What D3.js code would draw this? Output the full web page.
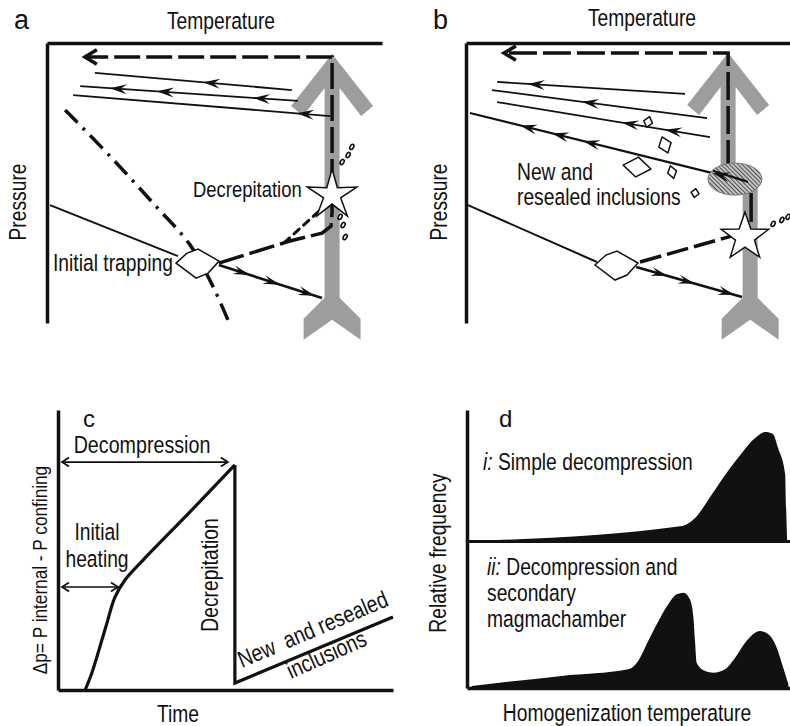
<!DOCTYPE html>
<html>
<head>
<meta charset="utf-8">
<script src="https://cdn.jsdelivr.net/npm/d3@7"></script>
<style>
    html, body { margin: 0; padding: 0; background: #fff; }
    svg { display: block; }
    text {
        font-family: "Liberation Sans", Arial, sans-serif;
        fill: #111;
    }
</style>
</head>
<body>
<svg id="fig" width="790" height="726"></svg>
<script>
// Schematic P-T paths of melt inclusions during magma ascent (a, b),
// overpressure through time (c) and resulting Th histograms (d).
// Panels a/b use schematic units: temperature 0-100 left to right,
// pressure 0-100 top to bottom.

const INK = "#111";
const GREY = "#9d9d9d";
const NARROW = 0.82;   // condensed look for the Helvetica-Narrow style labels

// ---- panel a: simple decompression ----
const A_TRAP_LINE = [[0.9, 57.9], [39.1, 76.1]];
const A_TRAP = [45.1, 78.6];
const A_HEAT_LINE = [[51.3, 79.3], [82.1, 91.1]];
const A_HEAT_ARROWS = [60.6, 69.6, 80.0];
const A_RESET_PATH = [[51.3, 78.6], [72.5, 70.7], [82.1, 67.9], [84.8, 65.4], [85.1, 60.4], [85.1, 5.0], [11.3, 5.0]];
const A_COOL_LINES = [
    [[14.3, 10.7], [73.1, 16.8]],
    [[9.9, 15.4], [74.9, 20.7]],
    [[7.8, 18.6], [84.5, 26.1]],
];
const A_COOL_ARROWS = [[46.6], [18.8, 32.8, 61.5], [74.6]];
const A_DASHDOT = [[5.4, 23.9], [18.8, 40.4], [32.2, 57.9], [42.7, 72.1], [49.6, 87.1], [54.0, 98.9]];
const A_ASCENT = [[85.1, 3.9], [85.1, 106]];
const A_STAR = [85.1, 54.3];
const A_SPALL = [[91.0, 37.1], [89.9, 40.0], [88.1, 42.5], [87.5, 62.1], [88.4, 65.0], [89.0, 69.3]];
const A_SPALL_LINE = [[83.9, 57.1], [71.0, 71.1]];

// ---- panel b: decompression with resealing ----
const B_TRAP_LINE = [[0.6, 57.9], [40.4, 78.2]];
const B_TRAP = [46.6, 79.3];
const B_HEAT_LINE = [[52.5, 80.0], [85.2, 90.7]];
const B_HEAT_ARROWS = [62.3, 70.7, 83.0];
const B_BURST_LINE = [[53.7, 78.2], [83.0, 68.6]];
const B_RESET_PATH = [[80.9, 44.6], [80.9, 3.6], [11.7, 3.6]];
const B_DROP = [[88.0, 53.6], [88.0, 63.9]];
const B_COOL_LINES = [
    [[9.6, 13.9], [67.6, 18.2]],
    [[8.0, 16.8], [74.4, 26.8]],
    [[9.6, 21.1], [75.3, 33.6]],
    [[1.2, 25.0], [87.0, 49.6]],
];
const B_COOL_ARROWS = [[19.1], [35.8], [48.1, 61.4], [16.7, 26.5, 36.1, 76.2]];
const B_ASCENT = [[80.9, 3.6], [87.7, 106]];
const B_JOG = 48.9;
const B_RESEAL = [83.0, 48.6];
const B_STAR = [86.1, 69.3];
const B_SPALL = [[94.8, 64.6], [97.5, 63.2], [99.4, 62.1]];
const B_INCLUSIONS = [[56.2, 28.2], [61.4, 36.4], [52.8, 44.3], [63.6, 46.1], [70.7, 53.6]];

// ---- panel c: overpressure vs time ----
const C_RISE_TIME = [8.1, 10.1, 12.5, 14.6, 17.0, 20.0, 25.4, 39.4, 52.8];
const C_RISE_DP = [0, 6.1, 15.4, 23.9, 33.2, 39.3, 46.4, 63.6, 80.4];
const C_AFTER = [[52.8, 80.4], [52.8, 2.5], [100, 26.1]];

// ---- panel d: homogenization temperature histograms ----
const D_TEMP_I = [1.5, 66.6, 70.6, 75.9, 80.8, 85.1, 89.2, 92.3, 94.7, 96.3, 98.5, 98.8, 99.1];
const D_FREQ_I = [0, 11.5, 17.7, 36.2, 53.8, 67.7, 79.2, 83.8, 82.3, 71.5, 51.5, 25.4, 0];
const D_TEMP_II = [1.5, 29.3, 49.9, 53.0, 56.1, 59.3, 62.3, 64.9, 67.0, 69.0, 70.1, 70.6, 71.1,
    73.7, 76.3, 79.9, 83.0, 86.1, 89.2, 90.7, 93.3, 95.9, 97.9, 99.5];
const D_FREQ_II = [0.8, 8.5, 13.6, 20, 35.4, 50.8, 63.6, 71.3, 72.5, 67.5, 53.3, 35.4, 18.7,
    12.3, 11, 13.6, 22.5, 34.1, 41.8, 43.1, 40.5, 30.2, 14.8, 2.1];

// small rhombus inclusions in b: width, height, rotation (style only)
const INCLUSION_STYLE = [[9, 11, 15], [13, 17, -20], [28, 20, 8], [9, 13, -15], [8, 9, 10]];

const svg = d3.select("#fig");
const defs = svg.append("defs");

const hatch = defs.append("pattern")
    .attr("id", "hatch")
    .attr("patternUnits", "userSpaceOnUse")
    .attr("width", 3).attr("height", 3)
    .attr("patternTransform", "rotate(-45)");
hatch.append("rect").attr("width", 3).attr("height", 3).attr("fill", "#c4c4c4");
hatch.append("line").attr("x1", 0.5).attr("x2", 0.5).attr("y1", 0).attr("y2", 3)
    .attr("stroke", "#444").attr("stroke-width", 0.9);

// ---------- helpers ----------
function pathGen(x, y) {
    return d3.line().x((d) => x(d[0])).y((d) => y(d[1]));
}

function headPath(L, W) {
    return `M0,0L${-L},${-W}L${-0.62 * L},0L${-L},${W}Z`;
}

// filled arrowheads on a straight segment, pointing from -> to
function arrowsAlong(g, x, y, from, to, temps, L, W) {
    const x0 = x(from[0]), y0 = y(from[1]), x1 = x(to[0]), y1 = y(to[1]);
    const ang = Math.atan2(y1 - y0, x1 - x0) * 180 / Math.PI;
    g.append("g").selectAll("path")
        .data(temps)
        .join("path")
        .attr("d", headPath(L, W))
        .attr("fill", INK)
        .attr("transform", (t) => {
            const f = (t - from[0]) / (to[0] - from[0]);
            return `translate(${x0 + f * (x1 - x0)},${y0 + f * (y1 - y0)}) rotate(${ang})`;
        });
}

function ascentArrow(g, xTop, xBot, yApex, yJog, yEnd) {
    const HW = 7.5;
    const pts = [
        [xTop, yApex],
        [xTop + 41, yApex + 52], [xTop + 29, yApex + 62], [xTop + HW, yApex + 34],
        [xTop + HW, yJog], [xBot + HW, yJog],
        [xBot + HW, yEnd - 42], [xBot + HW + 21, yEnd - 21], [xBot + HW + 21, yEnd], [xBot, yEnd - 20],
        [xBot - HW - 21, yEnd], [xBot - HW - 21, yEnd - 21], [xBot - HW, yEnd - 42],
        [xBot - HW, yJog], [xTop - HW, yJog],
        [xTop - HW, yApex + 34], [xTop - 29, yApex + 62], [xTop - 41, yApex + 52],
    ];
    g.append("path").attr("d", d3.line()(pts) + "Z").attr("fill", GREY);
}

function starPath(R, r) {
    const pts = d3.range(10).map((i) => {
        const a = (198 + i * 36) * Math.PI / 180;
        const rad = i % 2 ? r : R;
        return [rad * Math.cos(a), rad * Math.sin(a)];
    });
    return d3.line()(pts) + "Z";
}

const LENS = [[-22, 0], [-11, -10], [0, -14], [21, -2], [10, 10], [-2, 15]];

function lens(g, x, y, p) {
    g.append("path")
        .attr("d", d3.line()(LENS) + "Z")
        .attr("transform", `translate(${x(p[0])},${y(p[1])})`)
        .attr("fill", "#fff").attr("stroke", INK).attr("stroke-width", 1.5);
}

function frame(g, x, y) {
    const top = g.append("g")
        .attr("transform", `translate(0,${y.range()[0]})`)
        .call(d3.axisTop(x).tickValues([]).tickSizeOuter(0));
    const left = g.append("g")
        .attr("transform", `translate(${x.range()[0]},0)`)
        .call(d3.axisLeft(y).tickValues([]).tickSizeOuter(0));
    [top, left].forEach((a) => a.select(".domain").attr("stroke", INK).attr("stroke-width", 3.5));
}

function spall(g, x, y, pts) {
    g.append("g").selectAll("ellipse")
        .data(pts)
        .join("ellipse")
        .attr("cx", (d) => x(d[0])).attr("cy", (d) => y(d[1]))
        .attr("rx", 2.8).attr("ry", 1.7)
        .attr("transform", (d) => `rotate(-60,${x(d[0])},${y(d[1])})`)
        .attr("fill", "#fff").attr("stroke", INK).attr("stroke-width", 1.6);
}

function openHead(g, px, py, size) {
    g.append("path")
        .attr("d", `M${px + size},${py - size * 0.6}L${px},${py}L${px + size},${py + size * 0.6}`)
        .attr("fill", "none").attr("stroke", INK).attr("stroke-width", 3.5);
}

function coolLines(g, x, y, lines, arrows, widths) {
    const line = pathGen(x, y);
    lines.forEach((seg, i) => {
        g.append("path").attr("d", line(seg))
            .attr("fill", "none").attr("stroke", INK).attr("stroke-width", widths[i]);
        arrowsAlong(g, x, y, seg[1], seg[0], arrows[i], 17, 5);
    });
}

// text is drawn at the origin and placed with a transform so it can be
// squeezed horizontally (narrow sans look) and rotated
function label(g, txt, px, py, size, opts = {}) {
    const sx = opts.wide ? 1 : NARROW;
    const rot = opts.rotate != null ? ` rotate(${opts.rotate})` : "";
    return g.append("text")
        .attr("transform", `translate(${px},${py})${rot} scale(${sx},1)`)
        .attr("font-size", size)
        .attr("text-anchor", opts.anchor || "start")
        .style("white-space", "pre")
        .text(txt);
}

// ---------- panel a ----------
{
    const g = svg.append("g");
    const x = d3.scaleLinear().domain([0, 100]).range([47, 382]);
    const y = d3.scaleLinear().domain([0, 100]).range([43, 323]);
    const line = pathGen(x, y);

    ascentArrow(g, x(A_ASCENT[0][0]), x(A_ASCENT[1][0]), y(A_ASCENT[0][1]), y(50), y(A_ASCENT[1][1]));
    frame(g, x, y);

    // dash-dot boundary; stretch the dashes a little so it ends on a dash
    const dd = g.append("path").attr("d", pathGen(x, y).curve(d3.curveCatmullRom)(A_DASHDOT))
        .attr("fill", "none").attr("stroke", INK).attr("stroke-width", 3.5);
    const len = dd.node().getTotalLength();
    const n = Math.round((len - 19) / 38);
    const k = len / (n * 38 + 19);
    dd.attr("stroke-dasharray", [19 * k, 8 * k, 3 * k, 8 * k].join(","));

    coolLines(g, x, y, A_COOL_LINES, A_COOL_ARROWS, [1.8, 1.8, 1.8]);

    g.append("path").attr("d", line(A_RESET_PATH))
        .attr("fill", "none").attr("stroke", INK).attr("stroke-width", 3.5)
        .attr("stroke-dasharray", "26,6");
    const end = A_RESET_PATH[A_RESET_PATH.length - 1];
    openHead(g, x(end[0]), y(end[1]), 12);

    g.append("path").attr("d", line(A_TRAP_LINE))
        .attr("fill", "none").attr("stroke", INK).attr("stroke-width", 2);
    g.append("path").attr("d", line(A_HEAT_LINE))
        .attr("fill", "none").attr("stroke", INK).attr("stroke-width", 2.6);
    arrowsAlong(g, x, y, A_HEAT_LINE[0], A_HEAT_LINE[1], A_HEAT_ARROWS, 17, 4.5);
    lens(g, x, y, A_TRAP);

    g.append("path").attr("d", line(A_SPALL_LINE))
        .attr("fill", "none").attr("stroke", INK).attr("stroke-width", 3)
        .attr("stroke-linecap", "round").attr("stroke-dasharray", "7,6");
    spall(g, x, y, A_SPALL);

    g.append("path").attr("d", starPath(26, 9))
        .attr("transform", `translate(${x(A_STAR[0])},${y(A_STAR[1])})`)
        .attr("fill", "#fff").attr("stroke", INK).attr("stroke-width", 1.5);

    label(g, "a", 14, 29, 27, { wide: true });
    label(g, "Temperature", 221, 29, 23.5, { anchor: "middle" });
    label(g, "Pressure", 26, 202, 23.5, { anchor: "middle", rotate: -90 });
    label(g, "Decrepitation", 193, 197, 22.5);
    label(g, "Initial trapping", 53, 271, 23.5);
}

// ---------- panel b ----------
{
    const g = svg.append("g");
    const x = d3.scaleLinear().domain([0, 100]).range([466, 790]);
    const y = d3.scaleLinear().domain([0, 100]).range([43, 323]);
    const line = pathGen(x, y);

    ascentArrow(g, x(B_ASCENT[0][0]), x(B_ASCENT[1][0]), y(B_ASCENT[0][1]), y(B_JOG), y(B_ASCENT[1][1]));
    frame(g, x, y);

    coolLines(g, x, y, B_COOL_LINES, B_COOL_ARROWS, [1.8, 1.8, 1.8, 2.2]);

    g.append("path").attr("d", line(B_RESET_PATH))
        .attr("fill", "none").attr("stroke", INK).attr("stroke-width", 3.5)
        .attr("stroke-dasharray", "28,6");
    const end = B_RESET_PATH[B_RESET_PATH.length - 1];
    openHead(g, x(end[0]), y(end[1]), 12);

    g.append("ellipse")
        .attr("cx", x(B_RESEAL[0])).attr("cy", y(B_RESEAL[1]))
        .attr("rx", 27).attr("ry", 16)
        .attr("fill", "url(#hatch)").attr("stroke", "#777").attr("stroke-width", 1);
    // last cooling path enters the resealing zone
    g.append("path").attr("d", line([[76.2, 45.6], B_COOL_LINES[3][1]]))
        .attr("stroke", INK).attr("stroke-width", 2.2);
    arrowsAlong(g, x, y, B_COOL_LINES[3][1], B_COOL_LINES[3][0], [76.2], 17, 5);

    g.append("path").attr("d", line(B_DROP))
        .attr("fill", "none").attr("stroke", INK).attr("stroke-width", 3.5);

    g.append("path").attr("d", line(B_TRAP_LINE))
        .attr("fill", "none").attr("stroke", INK).attr("stroke-width", 2);
    g.append("path").attr("d", line(B_BURST_LINE))
        .attr("fill", "none").attr("stroke", INK).attr("stroke-width", 3.5)
        .attr("stroke-dasharray", "22,6");
    g.append("path").attr("d", line(B_HEAT_LINE))
        .attr("fill", "none").attr("stroke", INK).attr("stroke-width", 2.6);
    arrowsAlong(g, x, y, B_HEAT_LINE[0], B_HEAT_LINE[1], B_HEAT_ARROWS, 17, 4.5);
    lens(g, x, y, B_TRAP);

    g.append("g").selectAll("path")
        .data(B_INCLUSIONS)
        .join("path")
        .attr("d", (d, i) => {
            const [w, h] = INCLUSION_STYLE[i];
            return `M${-w / 2},0L0,${-h / 2}L${w / 2},0L0,${h / 2}Z`;
        })
        .attr("transform", (d, i) => `translate(${x(d[0])},${y(d[1])}) rotate(${INCLUSION_STYLE[i][2]})`)
        .attr("fill", "#fff").attr("stroke", INK).attr("stroke-width", 1.5)
        .attr("stroke-linejoin", "round");

    spall(g, x, y, B_SPALL);
    g.append("path").attr("d", starPath(25, 10))
        .attr("transform", `translate(${x(B_STAR[0])},${y(B_STAR[1])})`)
        .attr("fill", "#fff").attr("stroke", INK).attr("stroke-width", 1.5);

    label(g, "b", 433, 29, 27, { wide: true });
    label(g, "Temperature", 642, 26, 23.5, { anchor: "middle" });
    label(g, "Pressure", 447, 202, 23.5, { anchor: "middle", rotate: -90 });
    label(g, "New and", 517, 180, 23.5);
    label(g, "resealed inclusions", 517, 205, 23.5);
}

// ---------- panel c ----------
{
    const g = svg.append("g");
    const x = d3.scaleLinear().domain([0, 100]).range([58, 393]);
    const y = d3.scaleLinear().domain([0, 100]).range([690, 410]);

    const xa = g.append("g").attr("transform", `translate(0,${y(0)})`)
        .call(d3.axisBottom(x).tickValues([]).tickSizeOuter(0));
    const ya = g.append("g").attr("transform", `translate(${x(0)},0)`)
        .call(d3.axisLeft(y).tickValues([]).tickSizeOuter(0));
    [xa, ya].forEach((a) => a.select(".domain").attr("stroke", INK).attr("stroke-width", 3.5));

    const rise = C_RISE_TIME.map((t, i) => [t, C_RISE_DP[i]]);
    g.append("path")
        .attr("d", d3.line().x((d) => x(d[0])).y((d) => y(d[1])).curve(d3.curveCatmullRom)(rise))
        .attr("fill", "none").attr("stroke", INK).attr("stroke-width", 3.2);
    g.append("path")
        .attr("d", d3.line().x((d) => x(d[0])).y((d) => y(d[1]))(C_AFTER))
        .attr("fill", "none").attr("stroke", INK).attr("stroke-width", 3.2)
        .attr("stroke-linejoin", "miter");

    function dbl(t0, t1, v) {
        const x0 = x(t0), x1 = x(t1), yy = y(v);
        g.append("path").attr("d", `M${x0},${yy}L${x1},${yy}`)
            .attr("stroke", INK).attr("stroke-width", 1.6);
        g.append("path")
            .attr("d", `M${x0 + 7},${yy - 4.5}L${x0},${yy}L${x0 + 7},${yy + 4.5}M${x1 - 7},${yy - 4.5}L${x1},${yy}L${x1 - 7},${yy + 4.5}`)
            .attr("fill", "none").attr("stroke", INK).attr("stroke-width", 1.8);
    }
    dbl(1.2, 50.7, 81.4);
    dbl(1.2, 17.9, 36.8);

    label(g, "c", 83, 427, 24, { wide: true });
    label(g, "Decompression", 142, 453, 24, { anchor: "middle" });
    label(g, "Initial", 97, 540, 23.5, { anchor: "middle" });
    label(g, "heating", 97, 567, 23.5, { anchor: "middle" });
    label(g, "Decrepitation", 218, 575, 23.5, { anchor: "middle", rotate: -90 });
    label(g, "New  and resealed", 242, 668, 23.5, { rotate: -23 });
    label(g, "inclusions", 291, 679, 23.5, { rotate: -24 });
    label(g, "\u0394p= P internal - P confining", 47, 570, 21, { anchor: "middle", rotate: -90 });
    label(g, "Time", 178, 722, 23.5, { anchor: "middle" });
}

// ---------- panel d ----------
{
    const g = svg.append("g");
    const x = d3.scaleLinear().domain([0, 100]).range([467, 790]);
    const yAxis = d3.scaleLinear().domain([0, 1]).range([688, 410]);
    const yI = d3.scaleLinear().domain([0, 100]).range([541, 411]);
    const yII = d3.scaleLinear().domain([0, 100]).range([687, 557]);

    const areaI = d3.area().x((d) => x(d[0])).y0(yI(0)).y1((d) => yI(d[1])).curve(d3.curveMonotoneX);
    const areaII = d3.area().x((d) => x(d[0])).y0(yII(0)).y1((d) => yII(d[1])).curve(d3.curveMonotoneX);

    g.append("path").attr("d", areaI(D_TEMP_I.map((t, i) => [t, D_FREQ_I[i]]))).attr("fill", INK);
    g.append("path").attr("d", areaII(D_TEMP_II.map((t, i) => [t, D_FREQ_II[i]]))).attr("fill", INK);

    const xa = g.append("g").attr("transform", `translate(0,${yAxis(0)})`)
        .call(d3.axisBottom(x).tickValues([]).tickSizeOuter(0));
    const mid = g.append("g").attr("transform", `translate(0,${yI(0)})`)
        .call(d3.axisBottom(x).tickValues([]).tickSizeOuter(0));
    const ya = g.append("g").attr("transform", `translate(${x(0)},0)`)
        .call(d3.axisLeft(yAxis).tickValues([]).tickSizeOuter(0));
    [xa, ya].forEach((a) => a.select(".domain").attr("stroke", INK).attr("stroke-width", 3.5));
    mid.select(".domain").attr("stroke", INK).attr("stroke-width", 3);

    label(g, "d", 499, 427, 24, { wide: true });
    const t1 = label(g, "", 483, 470, 23.5);
    t1.append("tspan").attr("font-style", "italic").text("i:");
    t1.append("tspan").text(" Simple decompression");
    const t2 = label(g, "", 487, 575, 23.5);
    t2.append("tspan").attr("font-style", "italic").text("ii:");
    t2.append("tspan").text(" Decompression and");
    label(g, "secondary", 487, 601, 23.5);
    label(g, "magmachamber", 487, 627, 23.5);
    label(g, "Relative frequency", 446, 553, 23.5, { anchor: "middle", rotate: -90 });
    label(g, "Homogenization temperature", 627, 721, 23.5, { anchor: "middle" });
}
</script>
</body>
</html>
